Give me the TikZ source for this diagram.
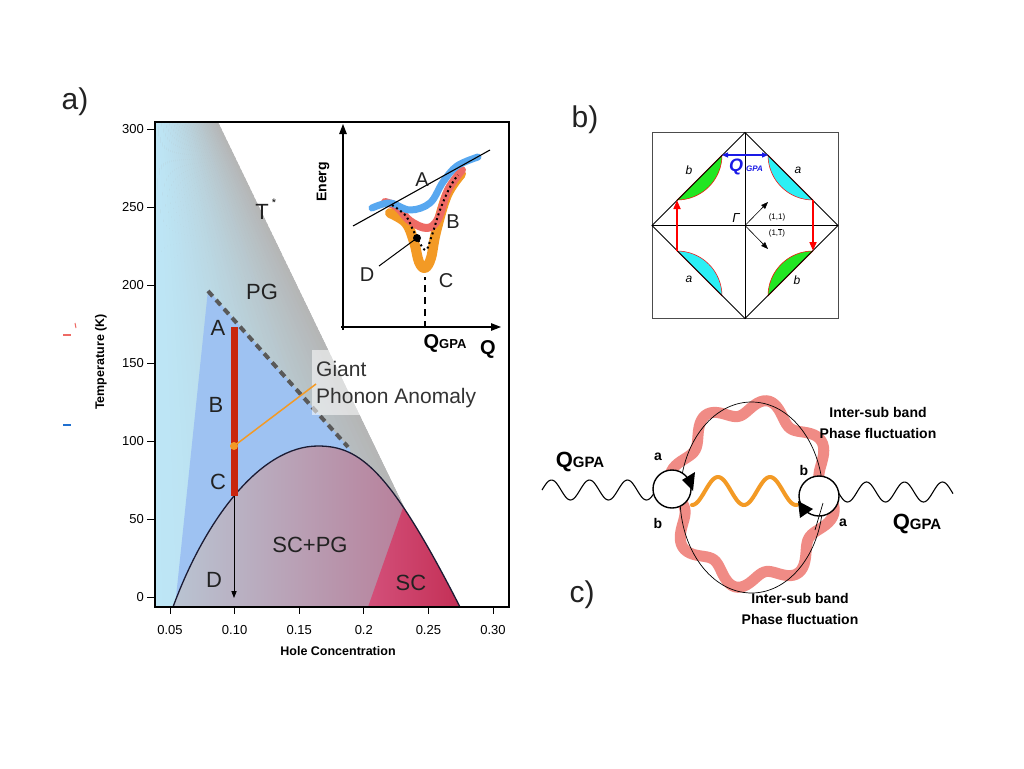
\documentclass[tikz,border=0pt]{standalone}
\usepackage{fontspec}
\setmainfont{Liberation Sans}
\usetikzlibrary{arrows.meta}
\definecolor{cyanbg}{HTML}{BDE6F6}
\definecolor{graybg}{HTML}{B5B5B5}
\definecolor{pgblue}{HTML}{9EC2F2}
\definecolor{domeL}{HTML}{B9C4D2}
\definecolor{domeM}{HTML}{B6A9C0}
\definecolor{domeR}{HTML}{B8708E}
\definecolor{scL}{HTML}{D3507A}
\definecolor{scR}{HTML}{C22C52}
\definecolor{domeline}{HTML}{1B1B33}
\definecolor{barred}{HTML}{C8260E}
\definecolor{orangeA}{HTML}{F39A25}
\definecolor{redA}{HTML}{EE6A64}
\definecolor{blueA}{HTML}{58A8F0}
\definecolor{pinkring}{HTML}{F0857F}
\definecolor{lensgreen}{HTML}{22E622}
\definecolor{lenscyan}{HTML}{2BEFF5}
\definecolor{qblue}{HTML}{1A1AE6}
\definecolor{markblue}{HTML}{2070D0}
\definecolor{txt}{HTML}{222222}
\newcommand{\fsz}[1]{\fontsize{#1}{#1}\selectfont}
\begin{document}
\begin{tikzpicture}[x=1pt,y=-1pt,
  lbl/.style={font=\fsz{22}, text=txt, inner sep=0pt},
  inlbl/.style={font=\fsz{20}, text=txt, inner sep=0pt},
  ticklbl/.style={font=\fsz{13}, inner sep=0pt},
  axlbl/.style={font=\bfseries\fsz{12.5}, inner sep=0pt},
  panellbl/.style={font=\fsz{30}, text=txt, inner sep=0pt},
  blbl/.style={font=\itshape\fsz{12}, inner sep=0pt},
  clbl/.style={font=\bfseries\fsz{14}, inner sep=0pt},
  tip/.style={-{Triangle[length=#1pt,width=0.75*#1pt]}},
  lensedge/.style={red, line width=0.5pt},
]
\useasboundingbox[fill=white] (0,0) rectangle (1024,768);

% ================= panel a =================
\node[panellbl] (pa) at (75,102) {a)};
% PG region: fan gradient from the left edge (cyan) to the T* line (gray)
\begin{scope}
  \clip (155,122) -- (218,122) -- (404,507) -- (460,607) -- (155,607) -- cycle;
  \fill[graybg] (155,122) rectangle (470,607);
  \foreach \i in {0,...,39}{
    \pgfmathsetmacro\xa{155+297*\i/40}
    \pgfmathsetmacro\xb{155+297*(\i+1.15)/40}
    \pgfmathsetmacro\pc{100*(1-((\i+0.5)/40)^1.4)}
    \fill[cyanbg!\pc!graybg] (155,-8) -- (\xa,607) -- (\xb,607) -- cycle;
  }
\end{scope}
% blue triangle
\fill[pgblue] (208,290) -- (350,449) -- (350,607) -- (175,607) -- cycle;
% dome
\shade[left color=domeL, middle color=domeM, right color=domeR]
  (173,607) .. controls (205,520) and (260,446) .. (318,446)
  .. controls (360,446) and (390,470) .. (460,607) -- cycle;
\begin{scope}
  \clip (173,607) .. controls (205,520) and (260,446) .. (318,446)
    .. controls (360,446) and (390,470) .. (460,607) -- cycle;
  \shade[left color=scL, right color=scR]
    (368,607) -- (404,505) -- (470,505) -- (470,607) -- cycle;
\end{scope}
\draw[domeline, line width=1.3pt]
  (173,607) .. controls (205,520) and (260,446) .. (318,446)
  .. controls (360,446) and (390,470) .. (460,607);
% dashed line
\draw[black!65, line width=4pt, dash pattern=on 7pt off 5pt] (208,291) -- (348,447);
% red bar and arrow
\draw[barred, line width=7pt] (234,327) -- (234,496);
\draw[tip=7, line width=0.8pt] (234,496) -- (234,598);
% giant phonon anomaly
\fill[white, opacity=0.55] (312,350) rectangle (498,415);
\draw[orangeA, line width=1.5pt] (234,446) -- (316,384);
\fill[orangeA] (234,446) circle (4);
\node[font=\fsz{21}, text=black!80, anchor=west, inner sep=0pt] (g1) at (316,369) {Giant};
\node[font=\fsz{21}, text=black!80, anchor=west, inner sep=0pt] (g2) at (316,398) {Phonon Anomaly};
% labels
\node[lbl] (lA) at (218,328) {A};
\node[lbl] (lB) at (216,405) {B};
\node[lbl] (lC) at (218,482) {C};
\node[lbl] (lD) at (214,580) {D};
\node[lbl] (lPG) at (262,292) {PG};
\node[lbl] (lT) at (262,212) {T};
\node[font=\fsz{11}, inner sep=0pt] (lTs) at (274,203) {*};
\node[lbl] (lSCPG) at (310,545) {SC+PG};
\node[lbl] (lSC) at (411,583) {SC};
% frame
\draw[line width=2.5pt] (155,122) rectangle (509,607);
% ticks
\foreach \v/\yy in {300/129,250/207,200/285,150/363,100/441,50/519,0/597}{
  \draw[line width=1pt] (147,\yy) -- (155,\yy);
  \node[ticklbl, anchor=east] at (144,\yy) {\v};
}
\foreach \v/\xx in {0.05/170,0.10/234.6,0.15/299.2,0.2/363.8,0.25/428.4,0.30/493}{
  \draw[line width=1pt] (\xx,607) -- (\xx,614);
  \node[ticklbl] at (\xx,630) {\v};
}
\node[axlbl] (xl) at (338,651) {Hole Concentration};
\node[axlbl, rotate=90] (yl) at (101,362) {Temperature (K)};
% stray marks
\draw[redA, line width=1.5pt] (63,335) -- (71,335);
\draw[redA, line width=1pt] (75,323) -- (76,328);
\draw[markblue, line width=1.5pt] (63,425) -- (71,425);

% ---- inset ----
\draw[line width=1.1pt, tip=10] (343,330) -- (343,124);
\draw[line width=1.1pt, tip=10] (341,327) -- (501,327);
\draw[line width=1.2pt, dash pattern=on 7pt off 5pt] (425,328) -- (425,277);
\draw[orangeA, line width=10pt, line cap=round, line join=round]
  plot[smooth, tension=0.6] coordinates {(390,213) (406,223) (414,242) (419,262) (425,268) (431,258) (436,232) (447,195) (461,174)};
\draw[redA, line width=8pt, line cap=round, line join=round]
  plot[smooth, tension=0.6] coordinates {(385,202) (397,207) (410,221) (427,228) (438,219) (448,190) (462,170)};
\draw[blueA, line width=7pt, line cap=round, line join=round]
  plot[smooth, tension=0.6] coordinates {(372,208) (390,203) (410,210) (430,203) (443,182) (457,166) (478,157)};
\draw[line width=2pt, dash pattern=on 2pt off 3pt]
  plot[smooth, tension=0.6] coordinates {(392,205) (406,216) (414,232) (425,250) (431,238) (440,210) (450,187) (458,175)};
\draw[line width=1.1pt] (353,226) -- (490,150);
\fill (417,238) circle (4);
\draw[line width=1pt] (417,238) -- (379,266);
\node[inlbl] (iA) at (422,180) {A};
\node[inlbl] (iB) at (453,222) {B};
\node[inlbl] (iC) at (446,281) {C};
\node[inlbl] (iD) at (367,275) {D};
\node[font=\bfseries\fsz{14}, rotate=90, inner sep=0pt] (en) at (323,182) {Energ};
\node[inner sep=0pt] (iq) at (445,343) {\bfseries\fsz{20}Q{\fsz{13}GPA}};
\node[font=\bfseries\fsz{20}, inner sep=0pt] (iQ) at (488,349) {Q};

% ================= panel b =================
\node[panellbl] (pb) at (585,120) {b)};
\draw[line width=0.6pt, black!70] (652,132.5) rectangle (838,318.5);
% Fermi-arc lenses (quarter circles, r = 45)
\filldraw[fill=lensgreen, draw=red, line width=0.5pt]
  (722,155) .. controls (722,179.85) and (701.85,200) .. (677,200) -- cycle;
\filldraw[fill=lenscyan, draw=red, line width=0.5pt]
  (768,155) .. controls (768,179.85) and (788.15,200) .. (813,200) -- cycle;
\filldraw[fill=lenscyan, draw=red, line width=0.5pt]
  (677,251) .. controls (701.85,251) and (722,271.15) .. (722,296) -- cycle;
\filldraw[fill=lensgreen, draw=red, line width=0.5pt]
  (813,251) .. controls (788.15,251) and (768,271.15) .. (768,296) -- cycle;
\draw[line width=0.8pt] (745,132.5) -- (838,225.5) -- (745,318.5) -- (652,225.5) -- cycle;
\draw[line width=0.8pt] (652,225.5) -- (838,225.5) (745,132.5) -- (745,318.5);
\draw[red, line width=2.2pt, tip=9] (677,251) -- (677,200);
\draw[red, line width=2.2pt, tip=9] (813,200) -- (813,251);
\draw[qblue, line width=1.2pt, {Triangle[length=6pt,width=5pt]}-{Triangle[length=6pt,width=5pt]}] (722,155) -- (768,155);
\node[text=qblue, inner sep=0pt, anchor=base west] (bq) at (729,171) {\bfseries\itshape\fsz{18}Q\,{\fsz{8}GPA}};
\draw[line width=0.6pt, tip=7] (745,225.5) -- (768,202);
\draw[line width=0.6pt, tip=7] (745,225.5) -- (768,249);
\node[font=\fsz{8}, inner sep=0pt] (b11) at (777,217) {(1,1)};
\node[font=\fsz{8}, inner sep=0pt] (b11b) at (777,233) {(1,$\overline{1}$)};
\node[font=\itshape\fsz{13}, inner sep=0pt] (gam) at (736,218) {Γ};
\node[blbl] (bb1) at (689,170) {b};
\node[blbl] (ba1) at (798,170) {a};
\node[blbl] (ba2) at (689,279) {a};
\node[blbl] (bb2) at (797,280) {b};

% ================= panel c =================
\node[panellbl] (pc) at (582,595) {c)};
\draw[pinkring, line width=11pt, line join=round, opacity=0.95]
  plot[domain=0:360, samples=181] ({752+76*(1+0.1*sin(8*\x))*cos(\x)}, {494+87*(1+0.09*sin(8*\x))*sin(\x)}) -- cycle;
\draw[line width=0.7pt] (751.5,497.5) ellipse (71.5 and 95.5);
\draw[orangeA, line width=4pt, line cap=round]
  plot[domain=0:105, samples=80] ({692+\x}, {491+14*cos(6.923*\x)});
\draw[line width=1.1pt] plot[domain=0:113, samples=90] ({542+\x}, {490-10*sin(9.474*\x)});
\draw[line width=1.1pt] plot[domain=0:115, samples=90] ({838+\x}, {492+10*sin(9.474*\x)});
\node[circle, draw, line width=1.4pt, fill=white, minimum size=38pt, inner sep=0pt] (lc) at (672,489) {};
\node[circle, draw, line width=1.4pt, fill=white, minimum size=40pt, inner sep=0pt] (rc) at (819,496) {};
\draw[line width=0.7pt] (823,503) -- (815,530);
\fill (682,480) -- (695,472) -- (693,491) -- cycle;
\fill (813,509) -- (798,501) -- (800,518) -- cycle;
\node[clbl] (ca1) at (658,457) {a};
\node[clbl] (cb1) at (658,523) {b};
\node[clbl] (cb2) at (804,470) {b};
\node[clbl] (ca2) at (843,523) {a};
\node[inner sep=0pt] (cq1) at (580,462) {\bfseries\fsz{22}Q{\fsz{15}GPA}};
\node[inner sep=0pt] (cq2) at (917,524) {\bfseries\fsz{22}Q{\fsz{15}GPA}};
\node[clbl] (t1) at (878,412) {Inter-sub band};
\node[clbl] (t2) at (878,433) {Phase fluctuation};
\node[clbl] (t3) at (800,598) {Inter-sub band};
\node[clbl] (t4) at (800,619) {Phase fluctuation};
\end{tikzpicture}
\end{document}
